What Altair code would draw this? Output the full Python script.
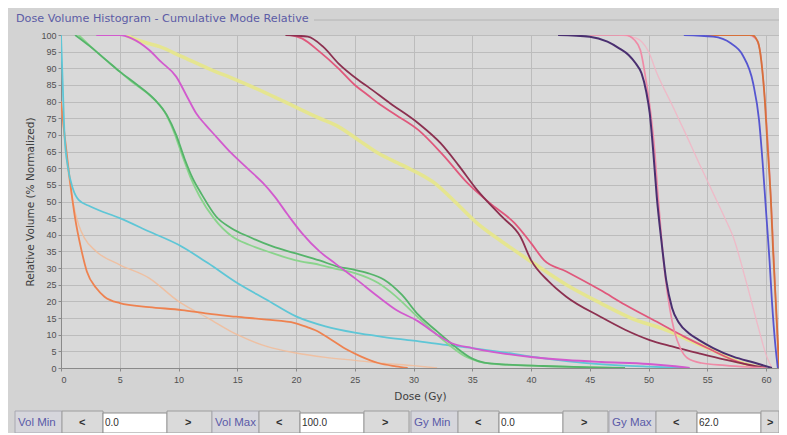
import altair as alt
import pandas as pd

# ---------------- axis ticks ----------------
X_TICKS = list(range(0, 61, 5))
Y_TICKS = list(range(0, 101, 5))
X_MAX = 61.1

# ---------------- DVH curves (dose Gy, relative volume %) ----------------
orange_dose = [0, 0.3, 0.7, 1.2, 1.7, 2.2, 3.0, 3.7, 5.0, 7.5, 10.3, 12.5, 14.9, 17.5, 19.9, 21.0, 21.6, 23.0, 24.4, 25.5, 27.0, 28.5, 29.5]
orange_vol = [80, 70, 58, 45, 36, 29, 24, 21.4, 19.5, 18.3, 17.4, 16.3, 15.4, 14.5, 13.5, 12.2, 11.4, 8.5, 5.4, 3.5, 1.5, 0.5, 0]

peach_dose = [0, 0.5, 1.0, 1.5, 2.0, 3.0, 5.0, 7.5, 10.0, 12.5, 15.0, 17.5, 20.0, 22.5, 25.0, 27.5, 30.0, 32.0]
peach_vol = [80, 62, 50, 43, 39, 35, 31, 27, 20, 15, 10, 6.5, 4.5, 3.2, 2.3, 1.4, 0.7, 0]

cyan_dose = [0, 0.15, 0.3, 0.6, 1.0, 1.5, 2.5, 5.0, 7.5, 10.0, 12.5, 15.0, 17.5, 20.0, 22.5, 25.0, 27.5, 30.0, 32.5, 35.0, 37.5, 40.0, 42.5, 45.0, 47.5, 50.0, 53.0]
cyan_vol = [100, 85, 70, 60, 54, 50.5, 48.5, 45, 41, 37, 31.5, 25.5, 20.5, 15.5, 12.5, 10.6, 9.3, 8.2, 7, 6, 4.8, 3.4, 2.3, 1.4, 0.8, 0.4, 0]

green_a_dose = [1.2, 2.5, 4.0, 5.0, 6.5, 8.0, 9.0, 9.8, 10.5, 11.2, 12.0, 13.2, 14.5, 16.0, 18.0, 19.9, 22.0, 23.6, 25.0, 26.1, 27.5, 29.0, 30.4, 32.0, 33.5, 35.0, 36.0, 38.0, 41.0, 45.0, 48.0]
green_a_vol = [100, 96.5, 92, 89, 85, 80.5, 76, 70, 63, 57, 52, 45.5, 42, 39.4, 36.5, 34.5, 32.3, 30.4, 29.5, 28.5, 26.5, 22, 16, 11, 6.5, 2.8, 1.6, 1.0, 0.6, 0.2, 0]

green_b_dose = [1.5, 3.0, 4.5, 6.0, 7.5, 8.8, 9.6, 10.3, 11.0, 11.8, 13.0, 14.6, 16.0, 18.0, 19.9, 22.0, 23.6, 25.0, 27.0, 28.5, 30.0, 31.5, 33.0, 34.5, 35.5, 37.0, 40.0, 44.0, 47.0]
green_b_vol = [100, 95, 90.5, 86, 82, 77, 71, 64, 57.4, 51.5, 45, 39.4, 37, 34.5, 32.4, 31, 29.6, 28.5, 25.5, 21.5, 16.5, 11.5, 7.0, 3.3, 2.0, 1.2, 0.7, 0.3, 0]

magenta_dose = [3.0, 5.0, 6.0, 7.5, 8.5, 9.8, 10.8, 11.5, 12.3, 13.2, 14.5, 16.0, 17.2, 18.2, 19.3, 20.5, 22.0, 23.3, 25.0, 27.0, 28.5, 30.4, 32.0, 33.2, 35.0, 37.4, 40.0, 43.0, 46.0, 50.0, 52.0, 53.5]
magenta_vol = [100, 100, 99, 95.5, 92, 87.5, 81, 76.5, 73, 69.5, 64.5, 59.5, 55.5, 51.4, 46, 40.5, 35, 31.5, 27, 21.4, 17.5, 14, 10, 7.5, 6, 4.5, 3.3, 2.4, 1.8, 1.2, 0.6, 0]

yellow_dose = [5.5, 6.5, 8.4, 10.3, 12.5, 14.9, 17.5, 19.9, 22.0, 23.6, 25.3, 27.0, 29.0, 31.8, 33.5, 35.4, 37.5, 40.2, 43.0, 45.9, 48.5, 51.5, 54.0, 56.0, 57.2, 58.5, 60.0]
yellow_vol = [100, 98.5, 96.5, 93.5, 90, 86.5, 82.5, 78.5, 75, 72.5, 68.5, 64.5, 61, 55.5, 50, 43.5, 38, 31.5, 25, 19.5, 15, 11.4, 7.5, 4.5, 2.4, 1, 0]

maroon_dose = [19.1, 21.0, 22.3, 23.6, 25.3, 26.1, 28.0, 30.4, 32.3, 33.8, 35.4, 37.5, 39.1, 40.0, 41.5, 43.0, 45.9, 48.0, 50.1, 52.0, 54.3, 56.5, 58.6, 60.0]
maroon_vol = [100, 99.5, 96.5, 91.5, 86.5, 84.5, 79.5, 73.5, 67.5, 61, 53.5, 45.5, 39.4, 32.4, 26, 21.4, 15.4, 11.5, 8.4, 6.5, 4.4, 2.5, 0.9, 0]

pinkred_dose = [19.5, 20.5, 22.0, 23.6, 25.0, 26.1, 27.0, 28.5, 30.4, 32.5, 34.6, 36.5, 38.6, 40.0, 41.1, 43.0, 45.9, 48.0, 50.9, 53.0, 55.0, 57.2, 59.0, 60.0]
pinkred_vol = [100, 99, 95, 90, 85, 82, 79.5, 76, 71.5, 64, 55.5, 49.5, 43.5, 37.5, 32.4, 29, 23.4, 19, 13.5, 9.5, 6, 2.4, 0.5, 0]

navy_dose = [42.3, 45.0, 46.5, 47.5, 48.3, 48.9, 49.4, 49.8, 50.1, 50.4, 50.7, 51.1, 51.5, 52.0, 52.6, 53.4, 54.3, 55.5, 57.2, 59.1, 60.5]
navy_vol = [100, 99.5, 98, 96, 94, 91.5, 88.5, 83, 76.5, 65, 51.4, 38, 26.4, 18, 13.5, 10.5, 8.4, 6, 3.4, 1.5, 0]

pink_dose = [45.0, 48.0, 48.8, 49.3, 49.8, 50.2, 50.5, 50.8, 51.1, 51.4, 51.8, 52.2, 52.7, 53.3, 54.5, 56.5, 58.5, 60.0]
pink_vol = [100, 100, 98.5, 95.5, 86, 76, 66, 52, 39, 28, 18, 11, 6, 3, 1.5, 0.8, 0.3, 0]

lightpink_dose = [47.5, 49.0, 50.0, 50.7, 52.0, 53.2, 54.3, 55.5, 56.5, 57.2, 58.3, 59.4, 60.0, 60.5]
lightpink_vol = [100, 99, 95, 88.6, 79, 70, 61.5, 52.5, 45, 39.4, 26, 11.4, 4, 0]

blue_dose = [53.0, 55.5, 57.0, 58.0, 58.9, 59.4, 59.7, 60.0, 60.3, 60.5, 60.8, 61.0]
blue_vol = [100, 99.5, 97.5, 94, 85.5, 74.5, 62, 47, 32, 20, 6.4, 0]

brown_dose = [54.9, 58.8, 59.3, 59.6, 59.9, 60.1, 60.4, 60.6, 60.8, 61.0, 61.1]
brown_vol = [100, 100, 98, 92, 80, 68, 51, 35, 21.4, 8, 0]

pinkr_dose = [56.0, 58.5, 59.1, 59.5, 59.8, 60.2, 60.5, 60.8, 61.0, 61.1]
pinkr_vol = [100, 100, 99, 95, 85, 65, 45, 22, 6, 0]

series = [
    ("peach", peach_dose, peach_vol),
    ("orange", orange_dose, orange_vol),
    ("cyan", cyan_dose, cyan_vol),
    ("green_b", green_b_dose, green_b_vol),
    ("green_a", green_a_dose, green_a_vol),
    ("yellow", yellow_dose, yellow_vol),
    ("magenta", magenta_dose, magenta_vol),
    ("pinkred", pinkred_dose, pinkred_vol),
    ("maroon", maroon_dose, maroon_vol),
    ("lightpink", lightpink_dose, lightpink_vol),
    ("pink", pink_dose, pink_vol),
    ("navy", navy_dose, navy_vol),
    ("pinkr", pinkr_dose, pinkr_vol),
    ("brown", brown_dose, brown_vol),
    ("blue", blue_dose, blue_vol),
]
# styles (one per series)
series_colors = ["#f2bb98", "#ee8250", "#5ec6d6", "#8ad48c", "#55b46a", "#e6e68c", "#d25ace",
                 "#e0587c", "#8c3050", "#f2b4c4", "#ef8aa6", "#4a2f70", "#ee7a98", "#d6703a", "#5656d0"]
series_widths = [1.4, 1.8, 1.8, 1.8, 1.8, 3.6, 1.8, 1.8, 1.8, 1.3, 1.7, 2.0, 1.5, 1.8, 1.8]
series_opacity = [0.85, 1, 1, 1, 1, 0.95, 1, 1, 1, 0.85, 1, 1, 0.9, 1, 1]

rows = []
for (name, d, v), w, o in zip(series, series_widths, series_opacity):
    for i, (a, b) in enumerate(zip(d, v)):
        rows.append({"curve": name, "i": i, "dose": a, "vol": b, "w": w, "o": o})
df = pd.DataFrame(rows)
names = [s[0] for s in series]

# ---------------- text ----------------
TITLE = "Dose Volume Histogram - Cumulative Mode Relative"
ctrl_names = ["Vol Min", "Vol Max", "Gy Min", "Gy Max"]
ctrl_values = ["0.0", "100.0", "0.0", "62.0"]

# ---------------- layout (page pixels; svg starts at page 8,8) ----------------
PAGE_OFF = 8
PLOT_L, PLOT_T, PLOT_W, PLOT_H = 61, 35, 718, 333
RIGHT = PLOT_L + PLOT_W
BOTTOM = 433
PX = alt.Scale(domain=[0, 787], range=[-PLOT_L, 787 - PLOT_L])
PY = alt.Scale(domain=[0, 435], range=[-PLOT_T, 435 - PLOT_T])
group_left = [15, 212, 411, 609]
part_edges = [0, 47, 88, 152, 197]
CY0, CY1, FY0 = 411, BOTTOM, 413

rect_rows, lab_rows, arrow_rows, val_rows = [], [], [], []
for g, x0 in enumerate(group_left):
    fills = ["#d6d6dc", "#dadada", "#ffffff", "#dadada"]
    strokes = ["#a8a8b0", "#9c9c9c", "#8e8e8e", "#9c9c9c"]
    for p in range(4):
        xa = x0 + part_edges[p]
        xb = min(x0 + part_edges[p + 1], RIGHT)
        rect_rows.append({"x": xa, "x2": xb, "y": FY0 if p == 2 else CY0, "y2": CY1,
                          "fill": fills[p], "stroke": strokes[p]})
    lab_rows.append({"x": x0 + 3, "y": 423, "t": ctrl_names[g]})
    arrow_rows.append({"x": x0 + 64, "y": 423, "t": "<"})
    arrow_rows.append({"x": min(x0 + 170, RIGHT - 12), "y": 423, "t": ">"})
    val_rows.append({"x": x0 + 90, "y": 423, "t": ctrl_values[g]})

FONT = "Liberation Sans"
TFONT = "DejaVu Sans"

axis_common = dict(labelFont=FONT, labelFontSize=9, labelColor="#505050",
                   titleFont=TFONT, titleFontSize=10.5, titleColor="#404040", titleFontWeight="normal",
                   gridColor="#bcbcbc", gridWidth=1, domainColor="#8a8a8a", tickColor="#8a8a8a",
                   tickSize=3, labelOverlap=False)

lines = alt.Chart(df).mark_line(interpolate="monotone", clip=True).encode(
    x=alt.X("dose:Q", scale=alt.Scale(domain=[0, X_MAX], nice=False, zero=False),
            axis=alt.Axis(orient="bottom", values=X_TICKS, title="Dose (Gy)", labelPadding=4,
                          titleY=28, titleBaseline="middle", **axis_common)),
    y=alt.Y("vol:Q", scale=alt.Scale(domain=[0, 100], nice=False),
            axis=alt.Axis(orient="left", values=Y_TICKS, title="Relative Volume (% Normalized)",
                          labelPadding=2, titleX=-31, titleBaseline="middle", **axis_common)),
    color=alt.Color("curve:N", scale=alt.Scale(domain=names, range=series_colors), legend=None),
    strokeWidth=alt.StrokeWidth("w:Q", scale=None),
    opacity=alt.Opacity("o:Q", scale=None),
    detail="curve:N",
    order="i:Q",
)

rects = alt.Chart(pd.DataFrame(rect_rows)).mark_rect(strokeWidth=1).encode(
    x=alt.X("x:Q", scale=PX, axis=None), x2="x2:Q",
    y=alt.Y("y:Q", scale=PY, axis=None), y2="y2:Q",
    fill=alt.Fill("fill:N", scale=None), stroke=alt.Stroke("stroke:N", scale=None),
)

def text_layer(rows, color, size, weight="normal", font=FONT):
    return alt.Chart(pd.DataFrame(rows)).mark_text(
        align="left", baseline="middle", font=font, fontSize=size, color=color, fontWeight=weight
    ).encode(x=alt.X("x:Q", scale=PX, axis=None), y=alt.Y("y:Q", scale=PY, axis=None), text="t:N")

labels = text_layer(lab_rows, "#5a5aa8", 11.5)
arrows = text_layer(arrow_rows, "#303030", 11, "bold")
values = text_layer(val_rows, "#303030", 10)
title = text_layer([{"x": 16, "y": 19, "t": TITLE}], "#5c5ca6", 11.2, font=TFONT)

border = alt.Chart(pd.DataFrame([{"x": 314, "x2": RIGHT, "y": 20}])).mark_rule(
    color="#b4b4b4", strokeWidth=1
).encode(x=alt.X("x:Q", scale=PX, axis=None), x2="x2:Q", y=alt.Y("y:Q", scale=PY, axis=None))

chart = alt.layer(lines, border, rects, labels, arrows, values, title).resolve_scale(
    x="independent", y="independent"
).properties(
    width=PLOT_W, height=PLOT_H,
    autosize=alt.AutoSizeParams(type="none"),
    padding={"left": PLOT_L - PAGE_OFF, "top": PLOT_T - PAGE_OFF,
             "right": 0, "bottom": BOTTOM - (PLOT_T + PLOT_H)},
    background="#d3d3d3",
).configure_view(fill="#d9d9d9", stroke="#b8b8b8")

chart.save("out.html", embed_options={"renderer": "svg", "actions": False})
